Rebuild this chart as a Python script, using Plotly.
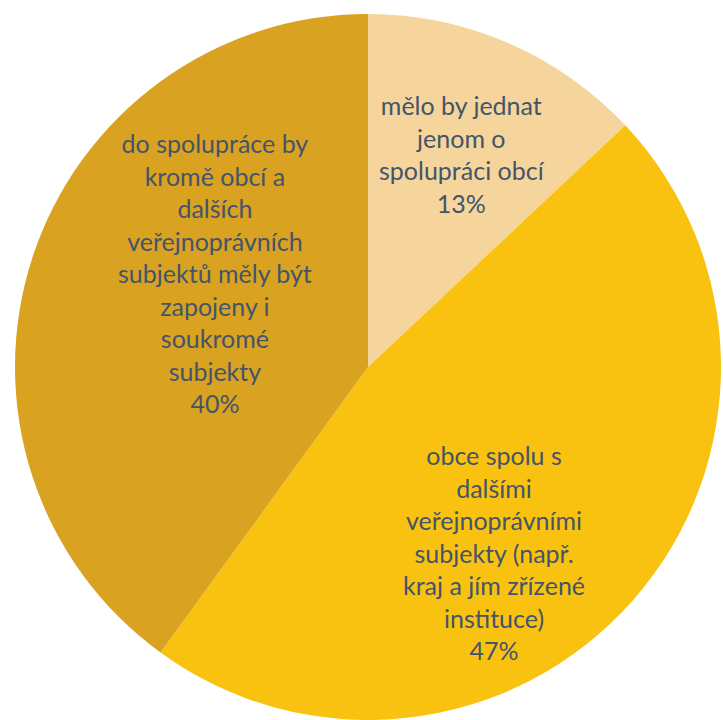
import plotly.graph_objects as go

# Data
labels = [
    "mělo by jednat<br>jenom o<br>spolupráci obcí",
    "obce spolu s<br>dalšími<br>veřejnoprávními<br>subjekty (např.<br>kraj a jím zřízené<br>instituce)",
    "do spolupráce by<br>kromě obcí a<br>dalších<br>veřejnoprávních<br>subjektů měly být<br>zapojeny i<br>soukromé<br>subjekty",
]
values = [13, 47, 40]
colors = ["#F6D59C", "#F9C210", "#D9A220"]

# label anchor positions (pixel coords in 723x720 canvas)
label_px = [(462, 154), (494, 552), (215, 273)]

W, H = 723, 720
cx, cy, r = 368, 368, 354

fig = go.Figure(
    go.Pie(
        labels=[l.replace("<br>", " ") for l in labels],
        values=values,
        sort=False,
        direction="clockwise",
        rotation=0,
        marker=dict(colors=colors, line=dict(width=0)),
        textinfo="none",
        hoverinfo="skip",
        showlegend=False,
        domain=dict(x=[(cx - r) / W, min(1, (cx + r) / W)], y=[max(0, 1 - (cy + r) / H), 1 - (cy - r) / H]),
    )
)

for lab, val, (px, py) in zip(labels, values, label_px):
    fig.add_annotation(
        x=px / W,
        y=1 - py / H,
        xref="paper",
        yref="paper",
        text=f"{lab}<br>{val}%",
        showarrow=False,
        xanchor="center",
        yanchor="middle",
        align="center",
        font=dict(family="Lato", size=25, color="#44546A"),
    )

fig.update_layout(
    width=W,
    height=H,
    margin=dict(l=0, r=0, t=0, b=0),
    paper_bgcolor="white",
    plot_bgcolor="white",
)

fig.write_html(
    "out.html",
    config={"displayModeBar": False},
    post_script="document.body.style.margin='0';document.body.style.overflow='hidden';",
)
